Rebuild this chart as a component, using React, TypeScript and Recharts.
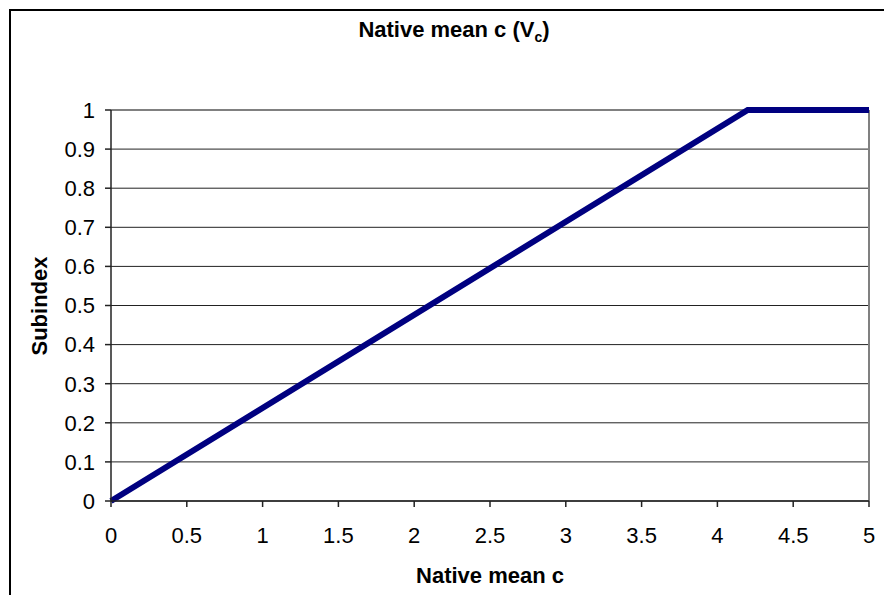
import { LineChart, Line, XAxis, YAxis, CartesianGrid, ReferenceLine } from 'recharts';

// native mean c vs subindex (linear up to 4.2, then capped at 1)
const nativeMean = [0, 4.2, 5];
const subindex = [0, 1, 1];
const xTicks = [0, 0.5, 1, 1.5, 2, 2.5, 3, 3.5, 4, 4.5, 5];
const yTicks = [0, 0.1, 0.2, 0.3, 0.4, 0.5, 0.6, 0.7, 0.8, 0.9, 1];

const data = nativeMean.map((x, i) => ({ x, y: subindex[i] }));

const font = 'Liberation Sans, Arial, Helvetica, sans-serif';
const tickStyle = { fontSize: 22, fill: '#000', fontFamily: font };

export default function App() {
  return (
    <div
      style={{
        position: 'absolute',
        top: 0,
        left: 0,
        width: 884,
        height: 595,
        overflow: 'hidden',
        background: '#fff',
        fontFamily: font,
      }}
    >
      <div
        style={{
          position: 'absolute',
          left: 9,
          top: 9,
          width: 900,
          height: 620,
          borderLeft: '2px solid #000',
          borderTop: '2px solid #000',
        }}
      />
      <div
        style={{
          position: 'absolute',
          left: 254,
          width: 400,
          top: 17,
          textAlign: 'center',
          fontSize: 22,
          fontWeight: 'bold',
          color: '#000',
        }}
      >
        Native mean c (V<sub style={{ fontSize: 14 }}>c</sub>)
      </div>
      <LineChart
        width={884}
        height={595}
        data={data}
        margin={{ top: 110, right: 15, left: 51, bottom: 54 }}
        style={{ position: 'absolute', top: 0, left: 0 }}
      >
        <CartesianGrid vertical={false} stroke="#222" strokeWidth={1} />
        <XAxis
          type="number"
          dataKey="x"
          domain={[0, 5]}
          ticks={xTicks}
          height={40}
          tick={tickStyle}
          tickSize={6}
          tickMargin={20}
          axisLine={{ stroke: '#222', strokeWidth: 1.5 }}
          tickLine={{ stroke: '#222', strokeWidth: 1.5 }}
          label={{
            content: () => (
              <text
                x={490}
                y={583}
                textAnchor="middle"
                fontSize={22}
                fontWeight="bold"
                fontFamily={font}
                fill="#000"
              >
                Native mean c
              </text>
            ),
          }}
        />
        <YAxis
          type="number"
          domain={[0, 1]}
          ticks={yTicks}
          width={60}
          tick={tickStyle}
          tickSize={6}
          tickMargin={10}
          axisLine={{ stroke: '#222', strokeWidth: 1.5 }}
          tickLine={{ stroke: '#222', strokeWidth: 1.5 }}
          label={{
            content: () => (
              <text
                x={47}
                y={306}
                textAnchor="middle"
                transform="rotate(-90 47 306)"
                fontSize={22}
                fontWeight="bold"
                fontFamily={font}
                fill="#000"
              >
                Subindex
              </text>
            ),
          }}
        />
        <ReferenceLine y={1} stroke="#808080" strokeWidth={2} />
        <ReferenceLine x={5} stroke="#808080" strokeWidth={2} />
        <Line
          dataKey="y"
          stroke="#000080"
          strokeWidth={6}
          dot={false}
          isAnimationActive={false}
        />
      </LineChart>
    </div>
  );
}
